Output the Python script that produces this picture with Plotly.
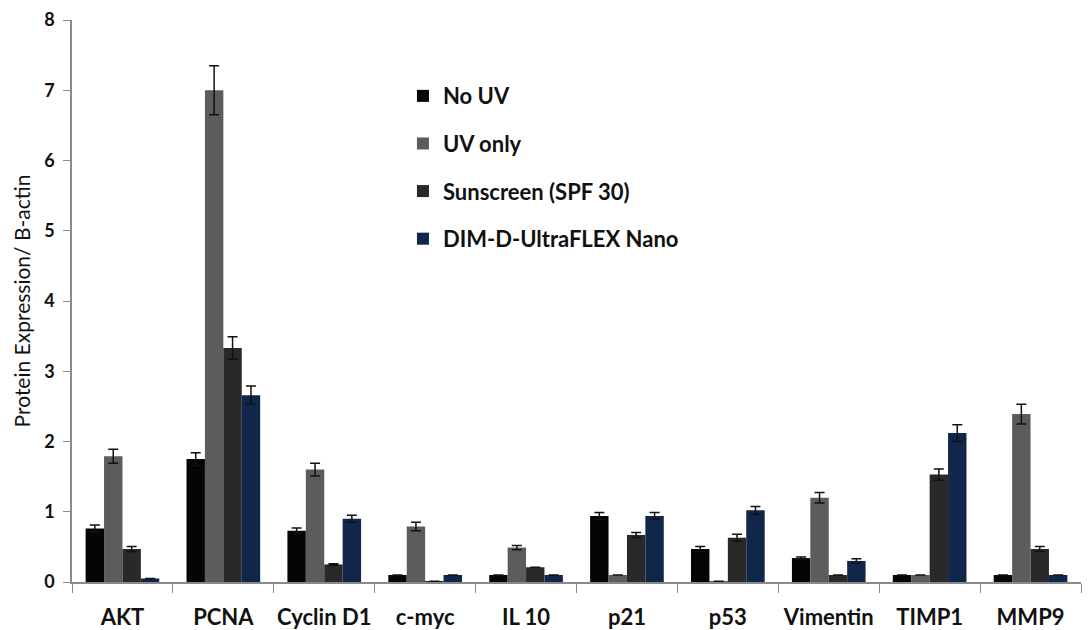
import plotly.graph_objects as go

categories = ["AKT", "PCNA", "Cyclin D1", "c-myc", "IL 10", "p21", "p53", "Vimentin", "TIMP1", "MMP9"]

series_names = ["No UV", "UV only", "Sunscreen (SPF 30)", "DIM-D-UltraFLEX Nano"]

no_uv = [0.76, 1.75, 0.73, 0.10, 0.10, 0.94, 0.47, 0.34, 0.10, 0.10]
no_uv_err = [0.05, 0.09, 0.04, 0.0, 0.0, 0.05, 0.035, 0.015, 0.0, 0.0]

uv_only = [1.79, 7.00, 1.60, 0.79, 0.49, 0.10, 0.01, 1.20, 0.10, 2.39]
uv_only_err = [0.10, 0.35, 0.09, 0.06, 0.03, 0.0, 0.0, 0.075, 0.0, 0.14]

sunscreen = [0.47, 3.33, 0.25, 0.01, 0.21, 0.67, 0.63, 0.10, 1.53, 0.47]
sunscreen_err = [0.035, 0.16, 0.01, 0.0, 0.0, 0.035, 0.05, 0.0, 0.08, 0.035]

nano = [0.05, 2.66, 0.90, 0.10, 0.10, 0.94, 1.02, 0.30, 2.12, 0.10]
nano_err = [0.0, 0.13, 0.05, 0.0, 0.0, 0.05, 0.055, 0.03, 0.12, 0.0]

colors = ["#050505", "#5c5c5c", "#292929", "#10264a"]

FONT = "Lato"

fig = go.Figure()
for i, (name, vals, errs) in enumerate(zip(series_names,
                                          [no_uv, uv_only, sunscreen, nano],
                                          [no_uv_err, uv_only_err, sunscreen_err, nano_err])):
    fig.add_trace(go.Bar(
        x=categories, y=vals, name=name,
        marker=dict(color=colors[i], line=dict(width=0)),
        error_y=dict(type="data", array=errs, visible=True, color="#111111",
                     thickness=1.5, width=5),
        legendgroup=name,
    ))

# page body has an 8px default margin, so the figure is sized to fit the window
fig.update_layout(
    width=1082, height=622,
    margin=dict(l=64, r=9, t=12, b=48),
    paper_bgcolor="white", plot_bgcolor="white",
    barmode="group", bargap=0.27, bargroupgap=0,
    font=dict(family=FONT, color="#111111"),
    showlegend=True,
    legend=dict(
        x=0.328, y=0.902, xanchor="left", yanchor="top",
        bgcolor="rgba(0,0,0,0)",
        font=dict(family=FONT, size=22, color="#111111", weight="bold"),
        traceorder="grouped", tracegroupgap=16,
        itemwidth=30,
    ),
    xaxis=dict(
        automargin=False,
        tickangle=0,
        ticklabeloverflow="allow",
        showline=True, linecolor="#8a8a8a", linewidth=1.5,
        ticks="outside", tickson="boundaries", ticklen=9, tickcolor="#8a8a8a",
        tickfont=dict(family=FONT, size=22, color="#111111", weight="bold"),
        ticklabelstandoff=15,
        showgrid=False, zeroline=False,
    ),
    yaxis=dict(
        automargin=False,
        ticklabeloverflow="allow",
        range=[0, 8], dtick=1,
        showline=True, linecolor="#8a8a8a", linewidth=1.5,
        ticks="outside", ticklen=7, tickcolor="#8a8a8a",
        tickfont=dict(family=FONT, size=18, color="#111111", weight="bold"),
        ticklabelstandoff=5,
        showgrid=False, zeroline=False,
        title=dict(text="Protein Expression/ B-actin",
                   font=dict(family=FONT, size=21, color="#111111"),
                   standoff=8),
    ),
)

fig.write_html("out.html")
